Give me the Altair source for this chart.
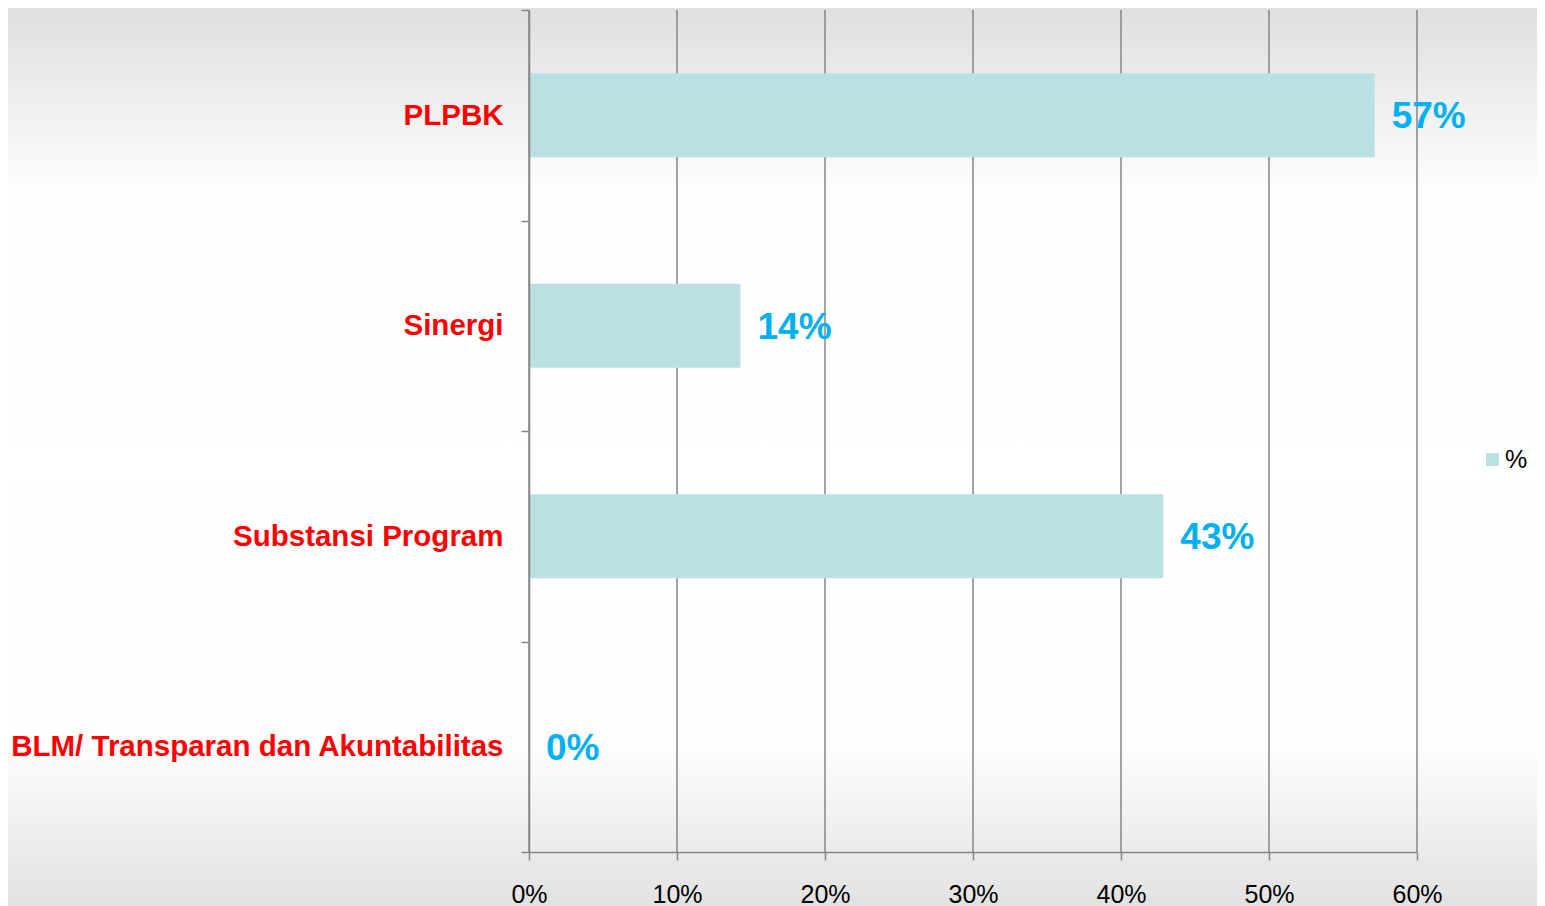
import altair as alt
import pandas as pd

categories = ["PLPBK", "Sinergi", "Substansi Program", "BLM/ Transparan dan Akuntabilitas"]
values = [0.5714, 0.1429, 0.4286, 0.0]
series = ["%", "%", "%", "%"]
x_ticks = [0.0, 0.1, 0.2, 0.3, 0.4, 0.5, 0.6]

df = pd.DataFrame({"category": categories, "value": values, "series": series})
grid_df = pd.DataFrame({"value": x_ticks})

FONT = "Liberation Sans"
GRID = "#868686"

bg = alt.Chart(alt.Data(values=[{"k": 1}])).mark_rect(
    color=alt.LinearGradient(
        gradient="linear",
        x1=0, x2=0, y1=0, y2=1,
        stops=[
            alt.GradientStop(color="#dfdfdf", offset=0.0),
            alt.GradientStop(color="#fdfdfd", offset=0.2),
            alt.GradientStop(color="#ffffff", offset=0.5),
            alt.GradientStop(color="#fdfdfd", offset=0.82),
            alt.GradientStop(color="#e1e1e1", offset=1.0),
        ],
    )
).encode(
    x=alt.value(-521), x2=alt.value(1008), y=alt.value(-2), y2=alt.value(900)
)

x_scale = alt.Scale(domain=[0, 0.6], nice=False, zero=True)
x_axis = alt.Axis(
    title=None,
    zindex=1,
    values=x_ticks,
    format=".0%",
    labelFont=FONT,
    labelFontSize=25,
    labelColor="#000000",
    labelPadding=22,
    labelFlush=False,
    tickSize=8,
    tickColor=GRID,
    tickWidth=1.5,
    domainColor=GRID,
    domainWidth=1.5,
    grid=False,
)

grid = alt.Chart(grid_df).mark_rule(color=GRID, strokeWidth=1.5).encode(
    x=alt.X("value:Q", scale=x_scale, axis=x_axis, title=None)
)

y_enc = alt.Y(
    "category:N",
    sort=categories,
    title=None,
    scale=alt.Scale(paddingInner=0, paddingOuter=0),
    axis=alt.Axis(
        title=None,
        zindex=1,
        labelFont=FONT,
        labelFontSize=29.5,
        labelFontWeight="bold",
        labelColor="#FF0000",
        labelLimit=700,
        labelPadding=18,
        tickBand="extent",
        tickSize=8,
        tickColor=GRID,
        tickWidth=1.5,
        domainColor=GRID,
        domainWidth=1.5,
        grid=False,
    ),
)

bars = alt.Chart(df).mark_bar(
    height=alt.RelativeBandSize(0.4)
).encode(
    x=alt.X("value:Q", scale=x_scale, axis=x_axis, title=None),
    y=y_enc,
    color=alt.Color(
        "series:N",
        scale=alt.Scale(domain=["%"], range=["#BBE0E3"]),
        legend=alt.Legend(
            title=None,
            orient="none",
            legendX=951,
            legendY=437,
            padding=0,
            symbolType="square",
            symbolSize=169,
            symbolStrokeWidth=0,
            labelFont=FONT,
            labelFontSize=25,
            labelColor="#000000",
            labelOffset=0,
        ),
    ),
)

labels = alt.Chart(df).mark_text(
    align="left",
    baseline="middle",
    dx=17,
    dy=2,
    font=FONT,
    fontSize=37,
    fontWeight="bold",
    color="#00B0F0",
).encode(
    x=alt.X("value:Q", title=None),
    y=alt.Y("category:N", sort=categories, title=None),
    text=alt.Text("value:Q", format=".0%"),
)

chart = alt.layer(bg, grid, bars, labels).properties(
    width=888,
    height=842,
    autosize=alt.AutoSizeParams(type="none"),
    padding={"left": 521, "top": 2, "right": 120, "bottom": 58},
).configure_view(stroke=None)

chart.save("out.html", embed_options={"renderer": "svg", "actions": False})
